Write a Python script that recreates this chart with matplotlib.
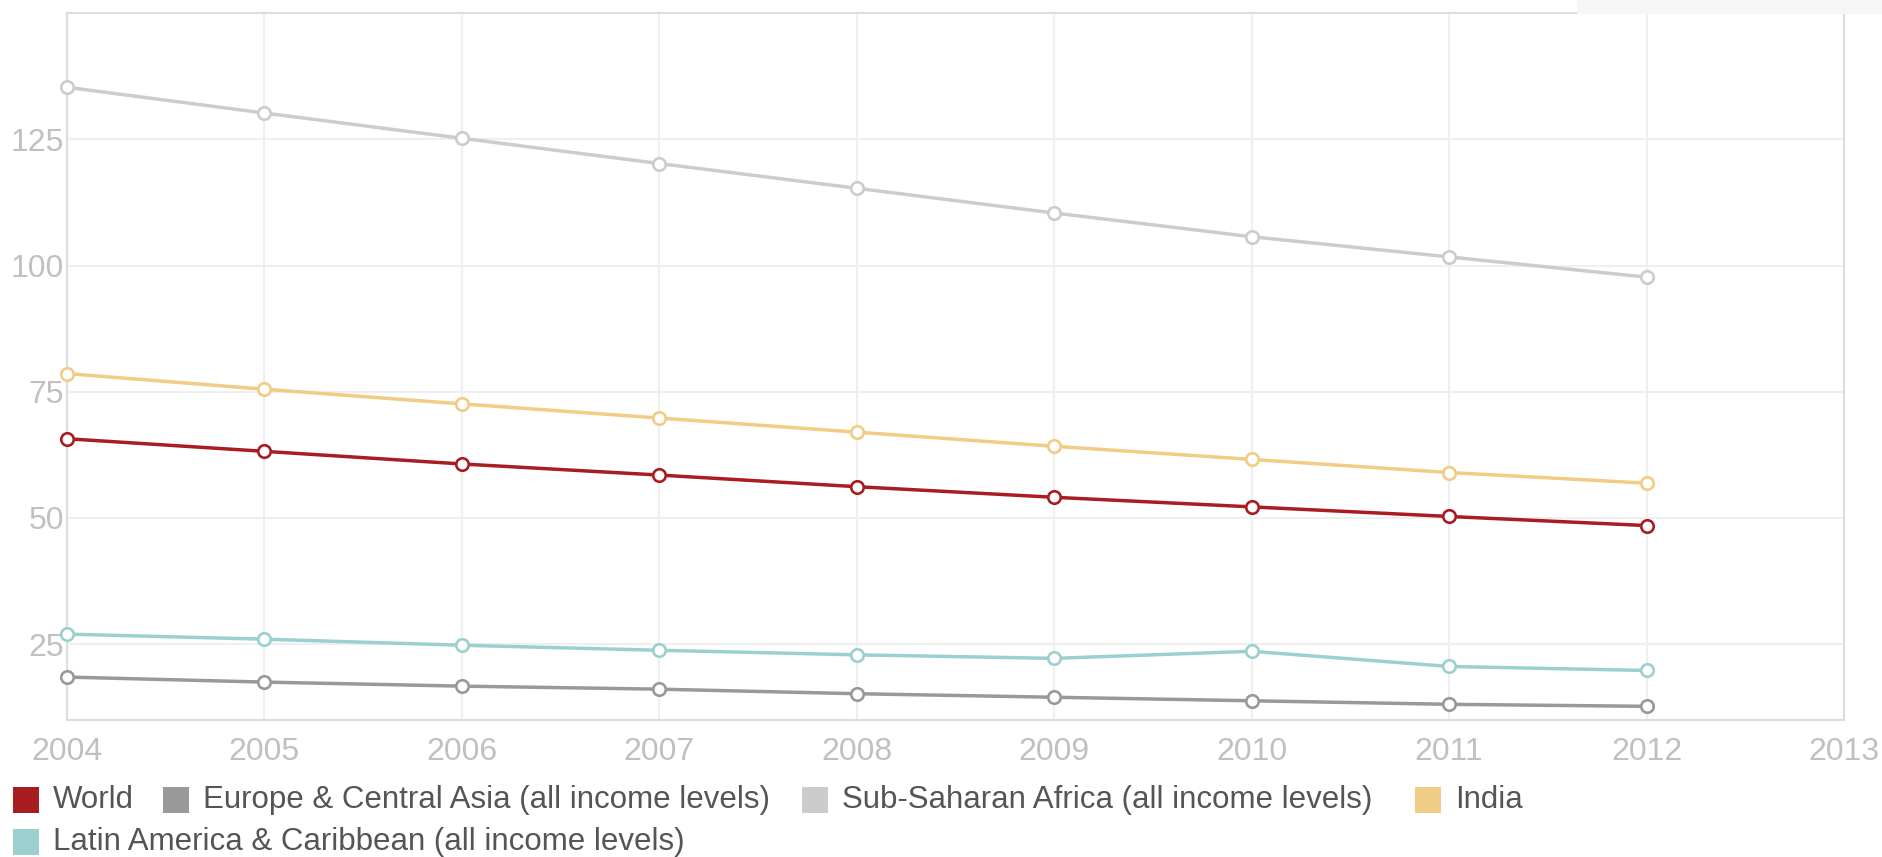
import matplotlib.pyplot as plt
from matplotlib.patches import Rectangle

plt.rcParams['font.family'] = ['Liberation Sans', 'DejaVu Sans']

anos = [2004, 2005, 2006, 2007, 2008, 2009, 2010, 2011, 2012]

world = [65.7, 63.2, 60.7, 58.5, 56.2, 54.1, 52.2, 50.3, 48.5]
europe = [18.5, 17.5, 16.7, 16.1, 15.2, 14.5, 13.8, 13.1, 12.7]
ssa = [135.3, 130.2, 125.2, 120.2, 115.3, 110.4, 105.7, 101.7, 97.7]
india = [78.6, 75.5, 72.6, 69.8, 67.0, 64.2, 61.6, 59.0, 56.9]
latam = [27.0, 26.0, 24.8, 23.8, 22.9, 22.2, 23.6, 20.6, 19.8]

nomes = ['World', 'Europe & Central Asia (all income levels)',
         'Sub-Saharan Africa (all income levels)', 'India',
         'Latin America & Caribbean (all income levels)']
series = [world, europe, ssa, india, latam]
cores = ['#a81c22', '#999999', '#cccccc', '#f0cc85', '#9ccfcf']

fig = plt.figure(figsize=(18.83, 8.57), dpi=100)
ax = fig.add_axes([0.0354, 0.1599, 0.9439, 0.8249])

# desenha de tras pra frente
for i in [2, 3, 0, 4, 1]:
    ax.plot(anos, series[i], '-o', color=cores[i], lw=2.5,
            markersize=9, markerfacecolor='white',
            markeredgecolor=cores[i], markeredgewidth=1.9,
            clip_on=False, zorder=3)

ax.set_xlim(2004, 2013)
ax.set_ylim(10, 150)
ax.set_xticks(range(2004, 2014))
ax.set_yticks([25, 50, 75, 100, 125])
ax.tick_params(axis='both', length=0, labelsize=23, colors='#c0c0c0')
ax.tick_params(axis='x', pad=12.5)
ax.tick_params(axis='y', pad=2)
ax.grid(True, color='#efefef', lw=1.5)
ax.set_axisbelow(True)
for s in ax.spines.values():
    s.set_color('#dddddd')
    s.set_linewidth(1.5)

# faixa cinza no canto superior direito
fig.patches.append(Rectangle((1577 / 1883, 1 - 14 / 857), 1 - 1577 / 1883,
                             14 / 857, transform=fig.transFigure,
                             facecolor='#f6f6f6', edgecolor='none'))

# legenda manual (em pixels da figura)
W, H = 1883, 857
leg_pos = [(13, 800), (163, 800), (802, 800), (1415, 800), (13, 842)]
for (x, y), nome, cor in zip(leg_pos, nomes, cores):
    q = 26
    fig.patches.append(Rectangle((x / W, 1 - (y + q / 2) / H), q / W, q / H,
                                 transform=fig.transFigure,
                                 facecolor=cor, edgecolor='none'))
    fig.text((x + q + 14) / W, 1 - y / H, nome, fontsize=22.5,
             color='#555555', va='center', ha='left')

plt.savefig('out.png', dpi=100)
